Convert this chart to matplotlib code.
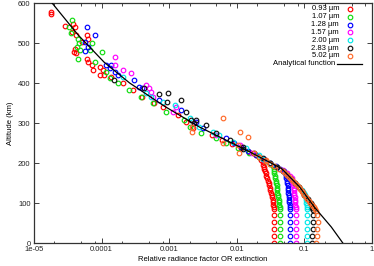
import matplotlib
matplotlib.use("Agg")
import matplotlib.pyplot as plt
from matplotlib.ticker import FixedLocator, FixedFormatter, LogLocator, NullFormatter

plt.rcParams['font.family'] = ['Liberation Sans', 'DejaVu Sans']

# ---------------- data ----------------
series_labels = ["0.93 \u00b5m", "1.07 \u00b5m", "1.28 \u00b5m", "1.57 \u00b5m",
                 "2.00 \u00b5m", "2.83 \u00b5m", "5.02 \u00b5m"]
series_colors = ["#ff0000", "#11dd11", "#0000ff", "#ff00ff", "#00e8e8", "#111111", "#ff6a2a"]

red_alt = [578, 572, 542, 547, 539, 528, 520, 520, 509, 503, 484, 478, 474, 459, 453, 445, 432, 441,
           432, 420, 420, 416, 399, 382, 366, 349, 341, 320, 303, 287, 270, 258, 248, 238, 228, 220,
           214, 208, 202, 196, 190, 186, 180, 174, 168, 162, 156, 150, 144, 138, 132, 126, 120, 114,
           108, 102, 96, 90, 85, 70, 52, 35, 17, 0]
red_x = [1.8e-5, 1.8e-5, 2.85e-5, 3.8e-5, 4.0e-5, 3.7e-5, 4.2e-5, 6.0e-5, 6.3e-5, 5.2e-5, 4.0e-5,
         3.9e-5, 4.2e-5, 6.0e-5, 6.3e-5, 7.3e-5, 7.5e-5, 9.4e-5, 1.05e-4, 9.4e-5, 1.1e-4, 1.37e-4,
         2.05e-4, 2.9e-4, 4.0e-4, 6.0e-4, 8.0e-4, 1.34e-3, 1.78e-3, 2.25e-3, 4.3e-3, 6.0e-3, 8.5e-3,
         0.0115, 0.015, 0.019, 0.021, 0.023, 0.024, 0.0245, 0.025, 0.025, 0.026, 0.027, 0.0275, 0.028,
         0.029, 0.0295, 0.030, 0.031, 0.031, 0.032, 0.033, 0.033, 0.034, 0.034, 0.034, 0.035, 0.035,
         0.035, 0.035, 0.035, 0.035, 0.035]

green_alt = [557, 541, 524, 509, 500, 491, 483, 459, 500, 483, 453, 478, 428, 412, 399, 382, 366, 349,
             328, 307, 291, 275, 262, 250, 238, 226, 214, 205, 198, 192, 186, 180, 174, 168, 162, 156,
             150, 144, 138, 132, 126, 120, 114, 108, 102, 96, 90, 85, 70, 52, 35, 17, 0]
green_x = [3.6e-5, 3.3e-5, 3.5e-5, 4.5e-5, 4.6e-5, 4.4e-5, 4.8e-5, 4.5e-5, 7.1e-5, 6.7e-5, 7.9e-5,
           1.0e-4, 1.18e-4, 1.33e-4, 1.72e-4, 2.57e-4, 3.8e-4, 5.7e-4, 9.0e-4, 1.67e-3, 2.0e-3, 3.0e-3,
           4.9e-3, 7.0e-3, 0.0105, 0.015, 0.021, 0.027, 0.031, 0.034, 0.035, 0.036, 0.036, 0.037, 0.037,
           0.038, 0.038, 0.039, 0.039, 0.040, 0.040, 0.041, 0.041, 0.042, 0.042, 0.042, 0.043, 0.043,
           0.043, 0.043, 0.043, 0.043, 0.043]

blue_alt = [541, 520, 503, 491, 481, 445, 437, 428, 420, 445, 407, 391, 387, 357, 332, 303, 287, 262,
            250, 240, 230, 220, 210, 200, 192, 186, 180, 174, 168, 162, 156, 150, 144, 138, 132, 126,
            120, 114, 108, 102, 96, 90, 85, 70, 52, 35, 17, 0]
blue_x = [6.0e-5, 7.9e-5, 5.7e-5, 6.2e-5, 5.7e-5, 1.18e-4, 1.33e-4, 1.57e-4, 1.76e-4, 1.37e-4, 3.0e-4,
          3.6e-4, 4.0e-4, 7.1e-4, 1.5e-3, 2.5e-3, 3.15e-3, 7.0e-3, 9.0e-3, 0.0115, 0.0145, 0.019, 0.025,
          0.031, 0.038, 0.044, 0.050, 0.052, 0.053, 0.054, 0.055, 0.056, 0.057, 0.057, 0.058, 0.058,
          0.059, 0.059, 0.060, 0.060, 0.061, 0.061, 0.061, 0.061, 0.061, 0.061, 0.061, 0.061]

magenta_alt = [466, 445, 432, 426, 395, 387, 378, 366, 341, 328, 300, 270, 245, 225, 210, 200, 190,
               182, 175, 168, 162, 156, 150, 144, 138, 132, 126, 120, 114, 108, 102, 96, 90, 85, 70,
               52, 35, 17, 0]
magenta_x = [1.57e-4, 1.57e-4, 2.05e-4, 2.7e-4, 4.5e-4, 5.1e-4, 5.4e-4, 5.7e-4, 1.26e-3, 1.14e-3,
             2.3e-3, 5.0e-3, 0.011, 0.0165, 0.024, 0.031, 0.040, 0.048, 0.055, 0.061, 0.065, 0.066,
             0.067, 0.068, 0.069, 0.070, 0.070, 0.071, 0.072, 0.072, 0.073, 0.073, 0.074, 0.074, 0.074,
             0.074, 0.074, 0.074, 0.074]

cyan_alt = [416, 374, 366, 353, 345, 312, 291, 278, 270, 253, 237, 220, 210, 200, 190, 180, 170, 160,
            150, 140, 132, 125, 119, 113, 107, 101, 95, 90, 85, 70, 52, 35, 17, 0]
cyan_x = [2.05e-4, 4.5e-4, 5.4e-4, 8.0e-4, 1.2e-3, 2.0e-3, 2.8e-3, 4.4e-3, 5.5e-3, 8.7e-3, 0.0138,
          0.0215, 0.0245, 0.031, 0.040, 0.049, 0.056, 0.064, 0.073, 0.083, 0.091, 0.098, 0.101, 0.104,
          0.106, 0.107, 0.108, 0.109, 0.110, 0.110, 0.110, 0.110, 0.110, 0.110]

black_alt = [407, 387, 372, 376, 353, 357, 328, 307, 299, 307, 295, 274, 257, 241, 224, 235, 212, 200,
             190, 180, 170, 160, 150, 140, 130, 120, 110, 100, 94, 88, 82, 70, 52, 35, 17, 0]
black_x = [1.5e-4, 4.3e-4, 7.0e-4, 9.7e-4, 9.4e-4, 1.5e-3, 1.78e-3, 2.1e-3, 2.35e-3, 2.5e-3, 3.5e-3,
           4.9e-3, 7.8e-3, 0.0123, 0.018, 0.0122, 0.024, 0.031, 0.039, 0.049, 0.056, 0.064, 0.073,
           0.082, 0.092, 0.100, 0.113, 0.124, 0.128, 0.130, 0.132, 0.133, 0.133, 0.133, 0.130, 0.128]

orange_alt = [291, 278, 312, 278, 264, 249, 245, 224, 224, 207, 215, 205, 198, 192, 186, 180, 175, 170,
              165, 160, 155, 150, 145, 140, 135, 130, 125, 120, 115, 110, 105, 100, 95, 90, 85, 80, 70,
              52, 35, 17, 0]
orange_x = [2.2e-3, 2.2e-3, 6.2e-3, 0.011, 0.0145, 6.2e-3, 0.0105, 0.0108, 0.0182, 0.0275, 0.021,
            0.027, 0.031, 0.035, 0.042, 0.048, 0.052, 0.056, 0.060, 0.064, 0.068, 0.072, 0.077, 0.082,
            0.087, 0.091, 0.096, 0.100, 0.105, 0.110, 0.116, 0.122, 0.129, 0.137, 0.145, 0.150, 0.155,
            0.157, 0.155, 0.152, 0.150]

series_alt = [red_alt, green_alt, blue_alt, magenta_alt, cyan_alt, black_alt, orange_alt]
series_x = [red_x, green_x, blue_x, magenta_x, cyan_x, black_x, orange_x]

# analytical function
func_alt = [600, 520, 452, 400, 342, 290, 228, 186, 140, 90, 40, 0]
func_x = [1.85e-5, 4.5e-5, 1.09e-4, 2.6e-4, 8.5e-4, 2.8e-3, 0.0155, 0.046, 0.085, 0.14, 0.25, 0.37]

xtick_vals = [1e-5, 1e-4, 1e-3, 1e-2, 1e-1, 1]
xtick_labels = ["1e-05", "0.0001", "0.001", "0.01", "0.1", "1"]
ytick_vals = [0, 100, 200, 300, 400, 500, 600]

# ---------------- figure ----------------
W, H = 374, 266
fig = plt.figure(figsize=(W / 100, H / 100), dpi=100)
ax = fig.add_axes([34 / W, 1 - 243 / H, (372 - 34) / W, 240 / H])

MS, MEW = 3.3, 0.85
for alts, xs, col in zip(series_alt, series_x, series_colors):
    ax.plot(xs, alts, linestyle='none', marker='o', ms=MS, mfc='none', mec=col, mew=MEW,
            clip_on=True, zorder=2)
ax.plot(func_x, func_alt, color='black', lw=0.9, zorder=3)

ax.set_xscale('log')
ax.set_xlim(1e-5, 1)
ax.set_ylim(0, 600)
ax.xaxis.set_major_locator(FixedLocator(xtick_vals))
ax.xaxis.set_major_formatter(FixedFormatter(xtick_labels))
ax.xaxis.set_minor_locator(LogLocator(base=10, subs=(2, 5, 8), numticks=20))
ax.xaxis.set_minor_formatter(NullFormatter())
ax.yaxis.set_major_locator(FixedLocator(ytick_vals))
ax.tick_params(which='major', direction='in', length=3.5, width=0.6, top=True, right=True,
               labelsize=5.5, pad=2.5, colors='#222222')
ax.tick_params(which='minor', direction='in', length=1.8, width=0.5, top=True, right=True)
for s in ax.spines.values():
    s.set_linewidth(0.9)
    s.set_color('#333333')

ax.set_xlabel("Relative radiance factor OR extinction", fontsize=5.5, labelpad=2)
ax.set_ylabel("Altitude (km)", fontsize=5.5, labelpad=3)

# legend (gnuplot style: right-aligned text, sample on the right)
row_h = 7.8 / 240
y0 = 1 - (9 - 3) / 240
tx = (339 - 34) / 338
mx = (350 - 34) / 338
for i, (lab, col) in enumerate(zip(series_labels, series_colors)):
    yy = y0 - i * row_h
    ax.text(tx, yy, lab, transform=ax.transAxes, ha='right', va='center', fontsize=5.5)
    ax.plot([mx], [yy], transform=ax.transAxes, marker='o', ms=MS, mfc='none', mec=col, mew=MEW,
            linestyle='none', clip_on=False)
yy = y0 - 7 * row_h
ax.text((335 - 34) / 338, yy, "Analytical function", transform=ax.transAxes, ha='right',
        va='center', fontsize=5.5)
ax.plot([(337 - 34) / 338, (362 - 34) / 338], [yy, yy], transform=ax.transAxes, color='black',
        lw=0.9, clip_on=False)

fig.savefig("out.png", dpi=100)
